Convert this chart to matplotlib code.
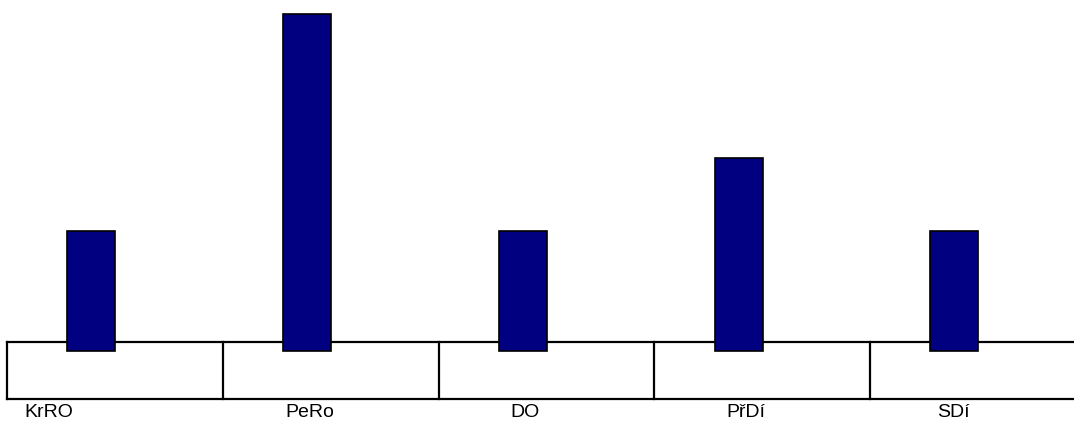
import matplotlib
matplotlib.use("Agg")
import matplotlib.pyplot as plt

categories = ["KrRO", "PeRo", "DO", "PřDí", "SDí"]
values = [5, 14, 5, 8, 5]

# horizontal shift of each label from the middle of its cell, in category units
label_dx = [-0.306, -0.097, -0.10, -0.074, -0.116]

plt.rcParams['font.family'] = ['Liberation Sans', 'DejaVu Sans']

fig = plt.figure(figsize=(10.74, 4.24), dpi=100)
# axes spans from the left edge of the box to just past the right edge of the image
ax = fig.add_axes([7 / 1074, 25 / 424, 1079 / 1074, 399 / 424])

px = 24.1  # pixels per unit
ax.set_xlim(-0.5, len(categories) - 0.5)
ax.set_ylim(-48 / px, 351 / px)
ax.axis("off")

box_top = 9 / px
box_bottom = -48 / px

# table-like box under the bars
ax.plot([-0.5, len(categories) - 0.5], [box_top, box_top], color="black", lw=1.6, zorder=1, clip_on=False)
ax.plot([-0.5, len(categories) - 0.5], [box_bottom, box_bottom], color="black", lw=1.6, zorder=1, clip_on=False)
for k in range(len(categories)):
    ax.plot([k - 0.5, k - 0.5], [box_bottom, box_top], color="black", lw=1.6, zorder=1, clip_on=False)

xs = [i - 0.11 for i in range(len(categories))]
ax.bar(xs, values, width=0.222, color="#000080", edgecolor="black", linewidth=1.2, zorder=3)

for i, lab in enumerate(categories):
    ax.annotate(lab, xy=(i + label_dx[i], 0), xycoords=("data", "axes fraction"), xytext=(0, -3.5),
                textcoords="offset points", ha="center", va="top", fontsize=14)

fig.savefig("out.png", dpi=100)
